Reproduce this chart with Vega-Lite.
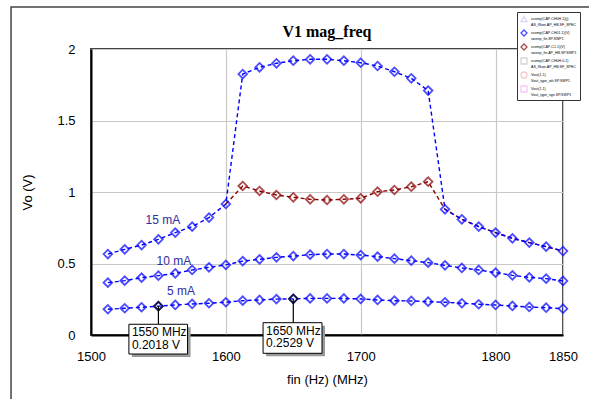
{
  "$schema": "https://vega.github.io/schema/vega-lite/v6.json",
  "width": 472,
  "height": 286,
  "autosize": {"type": "none"},
  "padding": {"left": 91, "top": 49, "right": 26, "bottom": 64},
  "background": "white",
  "title": {"text": "V1 mag_freq", "font": "Liberation Serif", "fontSize": 16, "fontWeight": "bold", "color": "black", "anchor": "middle", "offset": 8, "dy": 42},
  "config": {
    "view": {"stroke": "#444", "strokeWidth": 2},
    "axis": {"labelFont": "Liberation Sans", "titleFont": "Liberation Sans", "labelFontSize": 13, "titleFontSize": 13, "titleFontWeight": "normal", "labelColor": "black", "titleColor": "black", "ticks": false, "gridColor": "#c8c8c8", "gridWidth": 1.2, "domainColor": "black", "domainWidth": 2}
  },
  "datasets": {
    "blue": [
      {"freq":1512.5,"v":0.180,"current":"5 mA","series":"b"},{"freq":1525,"v":0.187,"current":"5 mA","series":"b"},{"freq":1537.5,"v":0.194,"current":"5 mA","series":"b"},{"freq":1550,"v":0.2018,"current":"5 mA","series":"b"},{"freq":1562.5,"v":0.210,"current":"5 mA","series":"b"},{"freq":1575,"v":0.217,"current":"5 mA","series":"b"},{"freq":1587.5,"v":0.222,"current":"5 mA","series":"b"},{"freq":1600,"v":0.229,"current":"5 mA","series":"b"},{"freq":1612.5,"v":0.240,"current":"5 mA","series":"b"},{"freq":1625,"v":0.245,"current":"5 mA","series":"b"},{"freq":1637.5,"v":0.251,"current":"5 mA","series":"b"},{"freq":1650,"v":0.2529,"current":"5 mA","series":"b"},{"freq":1662.5,"v":0.256,"current":"5 mA","series":"b"},{"freq":1675,"v":0.256,"current":"5 mA","series":"b"},{"freq":1687.5,"v":0.256,"current":"5 mA","series":"b"},{"freq":1700,"v":0.252,"current":"5 mA","series":"b"},{"freq":1712.5,"v":0.245,"current":"5 mA","series":"b"},{"freq":1725,"v":0.240,"current":"5 mA","series":"b"},{"freq":1737.5,"v":0.238,"current":"5 mA","series":"b"},{"freq":1750,"v":0.233,"current":"5 mA","series":"b"},{"freq":1762.5,"v":0.229,"current":"5 mA","series":"b"},{"freq":1775,"v":0.222,"current":"5 mA","series":"b"},{"freq":1787.5,"v":0.215,"current":"5 mA","series":"b"},{"freq":1800,"v":0.210,"current":"5 mA","series":"b"},{"freq":1812.5,"v":0.203,"current":"5 mA","series":"b"},{"freq":1825,"v":0.196,"current":"5 mA","series":"b"},{"freq":1837.5,"v":0.191,"current":"5 mA","series":"b"},{"freq":1850,"v":0.184,"current":"5 mA","series":"b"},
      {"freq":1512.5,"v":0.366,"current":"10 mA","series":"b"},{"freq":1525,"v":0.380,"current":"10 mA","series":"b"},{"freq":1537.5,"v":0.401,"current":"10 mA","series":"b"},{"freq":1550,"v":0.415,"current":"10 mA","series":"b"},{"freq":1562.5,"v":0.431,"current":"10 mA","series":"b"},{"freq":1575,"v":0.455,"current":"10 mA","series":"b"},{"freq":1587.5,"v":0.473,"current":"10 mA","series":"b"},{"freq":1600,"v":0.490,"current":"10 mA","series":"b"},{"freq":1612.5,"v":0.517,"current":"10 mA","series":"b"},{"freq":1625,"v":0.529,"current":"10 mA","series":"b"},{"freq":1637.5,"v":0.543,"current":"10 mA","series":"b"},{"freq":1650,"v":0.552,"current":"10 mA","series":"b"},{"freq":1662.5,"v":0.562,"current":"10 mA","series":"b"},{"freq":1675,"v":0.566,"current":"10 mA","series":"b"},{"freq":1687.5,"v":0.566,"current":"10 mA","series":"b"},{"freq":1700,"v":0.559,"current":"10 mA","series":"b"},{"freq":1712.5,"v":0.548,"current":"10 mA","series":"b"},{"freq":1725,"v":0.534,"current":"10 mA","series":"b"},{"freq":1737.5,"v":0.520,"current":"10 mA","series":"b"},{"freq":1750,"v":0.506,"current":"10 mA","series":"b"},{"freq":1762.5,"v":0.487,"current":"10 mA","series":"b"},{"freq":1775,"v":0.469,"current":"10 mA","series":"b"},{"freq":1787.5,"v":0.455,"current":"10 mA","series":"b"},{"freq":1800,"v":0.436,"current":"10 mA","series":"b"},{"freq":1812.5,"v":0.417,"current":"10 mA","series":"b"},{"freq":1825,"v":0.403,"current":"10 mA","series":"b"},{"freq":1837.5,"v":0.394,"current":"10 mA","series":"b"},{"freq":1850,"v":0.378,"current":"10 mA","series":"b"},
      {"freq":1512.5,"v":0.566,"current":"15 mA","series":"b"},{"freq":1525,"v":0.599,"current":"15 mA","series":"b"},{"freq":1537.5,"v":0.629,"current":"15 mA","series":"b"},{"freq":1550,"v":0.669,"current":"15 mA","series":"b"},{"freq":1562.5,"v":0.716,"current":"15 mA","series":"b"},{"freq":1575,"v":0.758,"current":"15 mA","series":"b"},{"freq":1587.5,"v":0.821,"current":"15 mA","series":"b"},{"freq":1600,"v":0.916,"current":"15 mA","series":"b"},{"freq":1612.5,"v":1.825,"current":"15 mA","series":"b"},{"freq":1625,"v":1.872,"current":"15 mA","series":"b"},{"freq":1637.5,"v":1.900,"current":"15 mA","series":"b"},{"freq":1650,"v":1.918,"current":"15 mA","series":"b"},{"freq":1662.5,"v":1.928,"current":"15 mA","series":"b"},{"freq":1675,"v":1.928,"current":"15 mA","series":"b"},{"freq":1687.5,"v":1.918,"current":"15 mA","series":"b"},{"freq":1700,"v":1.904,"current":"15 mA","series":"b"},{"freq":1712.5,"v":1.881,"current":"15 mA","series":"b"},{"freq":1725,"v":1.841,"current":"15 mA","series":"b"},{"freq":1737.5,"v":1.795,"current":"15 mA","series":"b"},{"freq":1750,"v":1.709,"current":"15 mA","series":"b"},{"freq":1762.5,"v":0.879,"current":"15 mA","series":"b"},{"freq":1775,"v":0.809,"current":"15 mA","series":"b"},{"freq":1787.5,"v":0.758,"current":"15 mA","series":"b"},{"freq":1800,"v":0.716,"current":"15 mA","series":"b"},{"freq":1812.5,"v":0.676,"current":"15 mA","series":"b"},{"freq":1825,"v":0.646,"current":"15 mA","series":"b"},{"freq":1837.5,"v":0.618,"current":"15 mA","series":"b"},{"freq":1850,"v":0.587,"current":"15 mA","series":"b"}
    ],
    "red": [
      {"freq":1600,"v":0.916,"series":"c"},{"freq":1612.5,"v":1.042,"series":"c"},{"freq":1625,"v":1.007,"series":"c"},{"freq":1637.5,"v":0.979,"series":"c"},{"freq":1650,"v":0.963,"series":"c"},{"freq":1662.5,"v":0.949,"series":"c"},{"freq":1675,"v":0.944,"series":"c"},{"freq":1687.5,"v":0.949,"series":"c"},{"freq":1700,"v":0.956,"series":"c"},{"freq":1712.5,"v":1.002,"series":"c"},{"freq":1725,"v":1.014,"series":"c"},{"freq":1737.5,"v":1.037,"series":"c"},{"freq":1750,"v":1.072,"series":"c"},{"freq":1762.5,"v":0.879,"series":"c"},{"freq":1775,"v":0.809,"series":"c"},{"freq":1787.5,"v":0.758,"series":"c"},{"freq":1800,"v":0.716,"series":"c"},{"freq":1812.5,"v":0.676,"series":"c"},{"freq":1825,"v":0.646,"series":"c"},{"freq":1837.5,"v":0.618,"series":"c"},{"freq":1850,"v":0.587,"series":"c"}
    ],
    "markers": [
      {"freq":1550,"v":0.2018,"bx1":1528.1,"bx2":1571.6,"by1":0.075,"by2":-0.133,"txt":"1550 MHz\n0.2018 V"},
      {"freq":1650,"v":0.2529,"bx1":1627.6,"bx2":1671.3,"by1":0.086,"by2":-0.128,"txt":"1650 MHz\n0.2529 V"}
    ],
    "curvelabels": [
      {"freq":1553.3,"v":0.804,"label":"15 mA"},
      {"freq":1561.5,"v":0.517,"label":"10 mA"},
      {"freq":1566.7,"v":0.31,"label":"5 mA"}
    ],
    "frame": [
      {"x1":1440.7,"x2":2200,"y1":2.294,"y2":-3}
    ]
  },
  "encoding": {
    "x": {"field": "freq", "type": "quantitative", "scale": {"domain": [1500, 1850], "nice": false, "zero": false},
          "axis": {"title": "fin (Hz) (MHz)", "values": [1500, 1600, 1700, 1800, 1850], "format": "d", "labelPadding": 15, "titlePadding": 10, "labelFlush": false}},
    "y": {"field": "v", "type": "quantitative", "scale": {"domain": [0, 2], "nice": false},
          "axis": {"title": "Vo (V)", "values": [0, 0.5, 1, 1.5, 2], "format": "~g", "labelPadding": 16, "titlePadding": 22, "labelFlush": false}}
  },
  "layer": [
    {"data": {"name": "frame"}, "mark": {"type": "rect", "fill": null, "stroke": "#444", "strokeWidth": 1.5, "clip": false},
     "encoding": {"x": {"field": "x1", "type": "quantitative"}, "x2": {"field": "x2"}, "y": {"field": "y1", "type": "quantitative"}, "y2": {"field": "y2"}}},
    {"data": {"name": "red"}, "mark": {"type": "line", "color": "#8b0000", "strokeDash": [4, 3], "strokeWidth": 1.4}, "encoding": {}},
    {"data": {"name": "red"}, "transform": [{"filter": "datum.freq >= 1612 && datum.freq <= 1751"}],
     "mark": {"type": "point", "filled": false, "strokeWidth": 1.8, "size": 75},
     "encoding": {"color": {"field": "series", "type": "nominal"},
                  "shape": {"field": "series", "type": "nominal"}}},
    {"data": {"name": "blue"}, "mark": {"type": "line", "color": "#0000ff", "strokeDash": [4, 3], "strokeWidth": 1.4},
     "encoding": {"detail": {"field": "current", "type": "nominal"}}},
    {"data": {"name": "blue"}, "mark": {"type": "point", "filled": false, "strokeWidth": 1.8, "size": 75},
     "encoding": {"color": {"field": "series", "type": "nominal", "scale": {"domain": ["a","b","c","d","e","f"], "range": ["#c8c8f4","#0000ff","#8b0000","#c4c4c4","#f4b4b4","#f4b4f4"]},
                            "legend": {"orient": "none", "legendX": 426, "legendY": -37, "title": null, "fillColor": "white", "strokeColor": "#333", "padding": 3,
                                       "symbolSize": 36, "symbolStrokeWidth": 1.3, "labelFont": "Liberation Sans", "labelFontSize": 3.6, "rowPadding": 0, "labelOffset": 3,
                                       "labelExpr": "datum.value == 'a' ? ['vcomp(CAP-CH0H.1)(j)', 'AS_fSwe.AP_HB.SF_SPEC'] : datum.value == 'b' ? ['vcomp(CAP-CH01.1)(V)', 'sweep_fin.SP.SWP1'] : datum.value == 'c' ? ['vcomp(CAP-C1.1)(V)', 'sweep_fin.AP_HB.SP.SWP1'] : datum.value == 'd' ? ['vcomp(CAP-CH0H.0.1)', 'AS_fSwe.AP_HB.SF_SPEC'] : datum.value == 'e' ? ['Vout(1.1)', 'Vout_type_wh.SP.SWP1'] : ['Vout(1.1)', 'Vout_type_sgn.SP.SWP1']",
                                       "encode": {"labels": {"update": {"fill": {"signal": "datum.value == 'b' || datum.value == 'c' ? '#111' : '#bbb'"}, "lineHeight": {"value": 5.5}}},
                                                  "symbols": {"update": {"fill": {"signal": "datum.value == 'a' ? '#c8c8f4' : 'transparent'"}}}}}},
                  "shape": {"field": "series", "type": "nominal", "scale": {"domain": ["a","b","c","d","e","f"], "range": ["triangle-up","diamond","diamond","square","circle","square"]}}}},
    {"data": {"name": "curvelabels"}, "mark": {"type": "text", "font": "Liberation Sans", "fontSize": 12, "color": "#2e2ea0", "align": "center", "baseline": "middle"},
     "encoding": {"text": {"field": "label"}}},
    {"data": {"name": "markers"}, "mark": {"type": "rule", "color": "black", "strokeWidth": 1.2},
     "encoding": {"y2": {"field": "by1"}}},
    {"data": {"name": "markers"}, "mark": {"type": "point", "shape": "diamond", "filled": false, "color": "black", "strokeWidth": 1.8, "size": 75}},
    {"data": {"name": "markers"}, "mark": {"type": "rect", "fill": "#999", "xOffset": 3, "x2Offset": 3, "yOffset": 3, "y2Offset": 3, "clip": false},
     "encoding": {"x": {"field": "bx1", "type": "quantitative"}, "x2": {"field": "bx2"}, "y": {"field": "by1", "type": "quantitative"}, "y2": {"field": "by2"}}},
    {"data": {"name": "markers"}, "mark": {"type": "rect", "fill": "white", "stroke": "black", "strokeWidth": 1, "clip": false},
     "encoding": {"x": {"field": "bx1", "type": "quantitative"}, "x2": {"field": "bx2"}, "y": {"field": "by1", "type": "quantitative"}, "y2": {"field": "by2"}}},
    {"data": {"name": "markers"}, "mark": {"type": "text", "font": "Liberation Sans", "fontSize": 12, "color": "black", "align": "left", "baseline": "top", "lineBreak": "\n", "lineHeight": 12.5, "dx": 3, "dy": 3},
     "encoding": {"x": {"field": "bx1", "type": "quantitative"}, "y": {"field": "by1", "type": "quantitative"}, "text": {"field": "txt"}}}
  ]
}
